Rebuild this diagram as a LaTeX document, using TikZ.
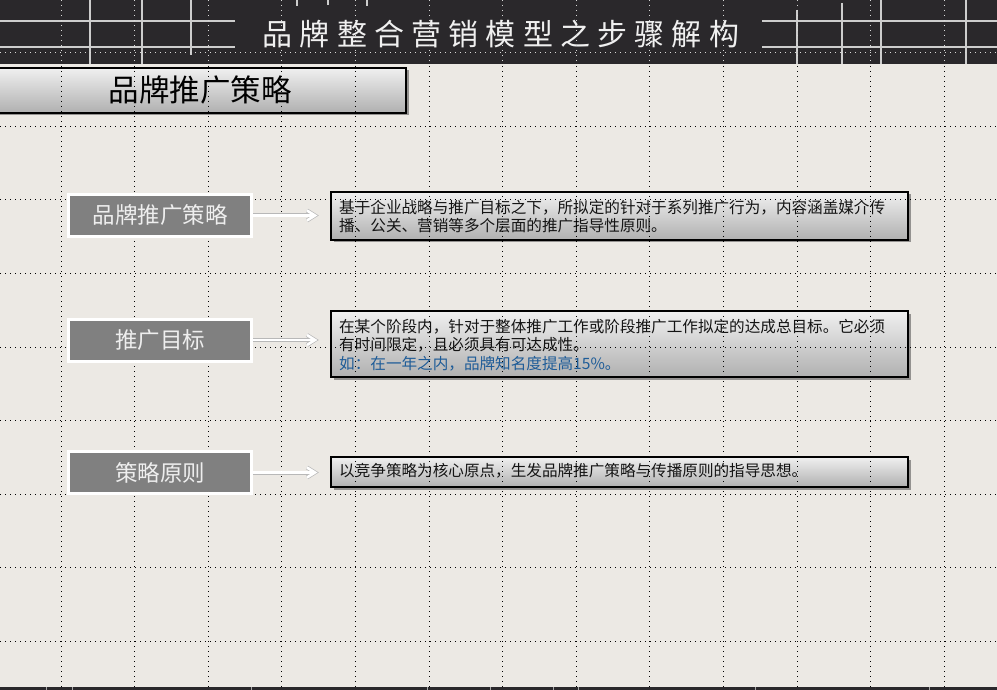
\documentclass[tikz,border=0pt]{standalone}
\usepackage{fontspec}
\setmainfont{Noto Sans CJK SC}
\newfontfamily\titlefont[LetterSpace=24]{Noto Sans CJK SC}
\usetikzlibrary{shadows,arrows.meta}
\definecolor{bgc}{RGB}{236,233,228}
\definecolor{hdr}{RGB}{42,40,43}
\definecolor{hline}{RGB}{205,205,205}
\definecolor{boxgray}{RGB}{128,128,128}
\definecolor{gtop}{RGB}{240,240,240}
\definecolor{gbot}{RGB}{176,176,176}
\definecolor{bluetxt}{RGB}{30,92,152}
\definecolor{lbltxt}{RGB}{238,238,238}
\tikzset{
  hdrline/.style={hline, line width=2pt},
  dotgrid/.style={line width=1pt, dash pattern=on 1pt off 4pt},
  gradbox/.style={draw=black, line width=2pt, top color=gtop, bottom color=gbot,
    drop shadow={shadow xshift=2.5pt, shadow yshift=-2.5pt, opacity=0.55, fill=black!70}},
  labelbox/.style={fill=boxgray, draw=white, line width=3pt, minimum width=183pt,
    minimum height=42pt, inner sep=0pt, text=lbltxt, font=\fontsize{22.5}{26}\selectfont},
  bodytext/.style={anchor=west, align=left, inner sep=0pt, text=black!92,
    font=\fontsize{15.6}{18.7}\selectfont},
  arrowouter/.style={line width=4pt, black!28, line join=miter, line cap=butt},
  arrowinner/.style={line width=2.6pt, white, line join=miter, line cap=butt}
}
\begin{document}
\begin{tikzpicture}[x=1pt, y=-1pt]
\useasboundingbox (0,0) rectangle (997,690);
\fill[bgc] (0,0) rectangle (997,690);
% header
\fill[hdr] (0,0) rectangle (997,64.5);
\draw[hdrline] (0,20.7) -- (235,20.7);
\draw[hdrline] (0,46.7) -- (235,46.7);
\draw[hdrline] (90,0) -- (90,64);
\draw[hdrline] (141.7,0) -- (141.7,64);
\draw[hdrline] (190.7,0) -- (190.7,55);
\draw[hdrline] (297,0) -- (297,6);
\draw[hdrline] (328,0) -- (328,5);
\draw[hdrline] (367,0) -- (367,6);
\draw[hdrline] (762,20.7) -- (997,20.7);
\draw[hdrline] (762,46.7) -- (997,46.7);
\draw[hdrline] (797,10) -- (797,64);
\draw[hdrline] (842,3) -- (842,64);
\draw[hdrline] (881,0) -- (881,64);
\draw[hdrline] (966,0) -- (966,64);
\node[text=white!94!black, font=\titlefont\fontsize{30}{34}\selectfont, inner sep=0pt]
  (title) at (501,34) {品牌整合营销模型之步骤解构};
% bottom strip
\fill[hdr] (0,687) rectangle (997,690);
\foreach \gx in {46,72,251,427,490,553,578,755,929}
  \fill[black!35] (\gx,687) rectangle ({\gx+1},690);
% section header
\node[gradbox, minimum width=416pt, minimum height=45pt, inner sep=0pt] (sect) at (198,90.3) {};
\node[font=\fontsize{30.5}{34}\selectfont, text=black, inner sep=0pt] (secttxt) at (200,90.5) {品牌推广策略};
% right boxes
\node[gradbox, minimum width=577pt, minimum height=48pt, inner sep=0pt] (ra) at (619.5,216) {};
\node[gradbox, minimum width=577pt, minimum height=66pt, inner sep=0pt] (rb) at (619.5,344) {};
\node[gradbox, minimum width=577pt, minimum height=30pt, inner sep=0pt] (rc) at (619.5,472) {};
\node[bodytext] (ta) at (339,216.5) {基于企业战略与推广目标之下，所拟定的针对于系列推广行为，内容涵盖媒介传\\播、公关、营销等多个层面的推广指导性原则。};
\node[bodytext] (tb) at (339,345) {在某个阶段内，针对于整体推广工作或阶段推广工作拟定的达成总目标。它必须\\有时间限定，且必须具有可达成性。\\\textcolor{bluetxt}{如：在一年之内，品牌知名度提高15\%。}};
\node[bodytext] (tc) at (339,471) {以竞争策略为核心原点，生发品牌推广策略与传播原则的指导思想。};
% dotted grid
\foreach \i in {0,...,12} {
  \draw[dotgrid, white!85!black] ({61+73.6*\i},0) -- ({61+73.6*\i},64);
  \draw[dotgrid, black] ({61+73.6*\i},66) -- ({61+73.6*\i},687);
}
\draw[dotgrid, white!85!black] (0,53) -- (997,53);
\foreach \j in {1,...,8}
  \draw[dotgrid, black] (0,{53+73.5*\j}) -- (997,{53+73.5*\j});
% left label boxes
\node[labelbox] (la) at (160,215.5) {品牌推广策略};
\node[labelbox] (lb) at (160,340) {推广目标};
\node[labelbox] (lc) at (160,472.5) {策略原则};
% arrows
\foreach \a/\b/\n in {la/ra/1, lb/rb/2, lc/rc/3} {
  \coordinate (tip\n) at ([xshift=-15pt]\a.east -| \b.west);
  \foreach \s in {arrowouter, arrowinner} {
    \draw[\s] (\a.east) -- ([xshift=-1.5pt]tip\n);
    \draw[\s] ([xshift=-8pt, yshift=-5pt]tip\n) -- (tip\n) -- ([xshift=-8pt, yshift=5pt]tip\n);
  }
}
\end{tikzpicture}
\end{document}
